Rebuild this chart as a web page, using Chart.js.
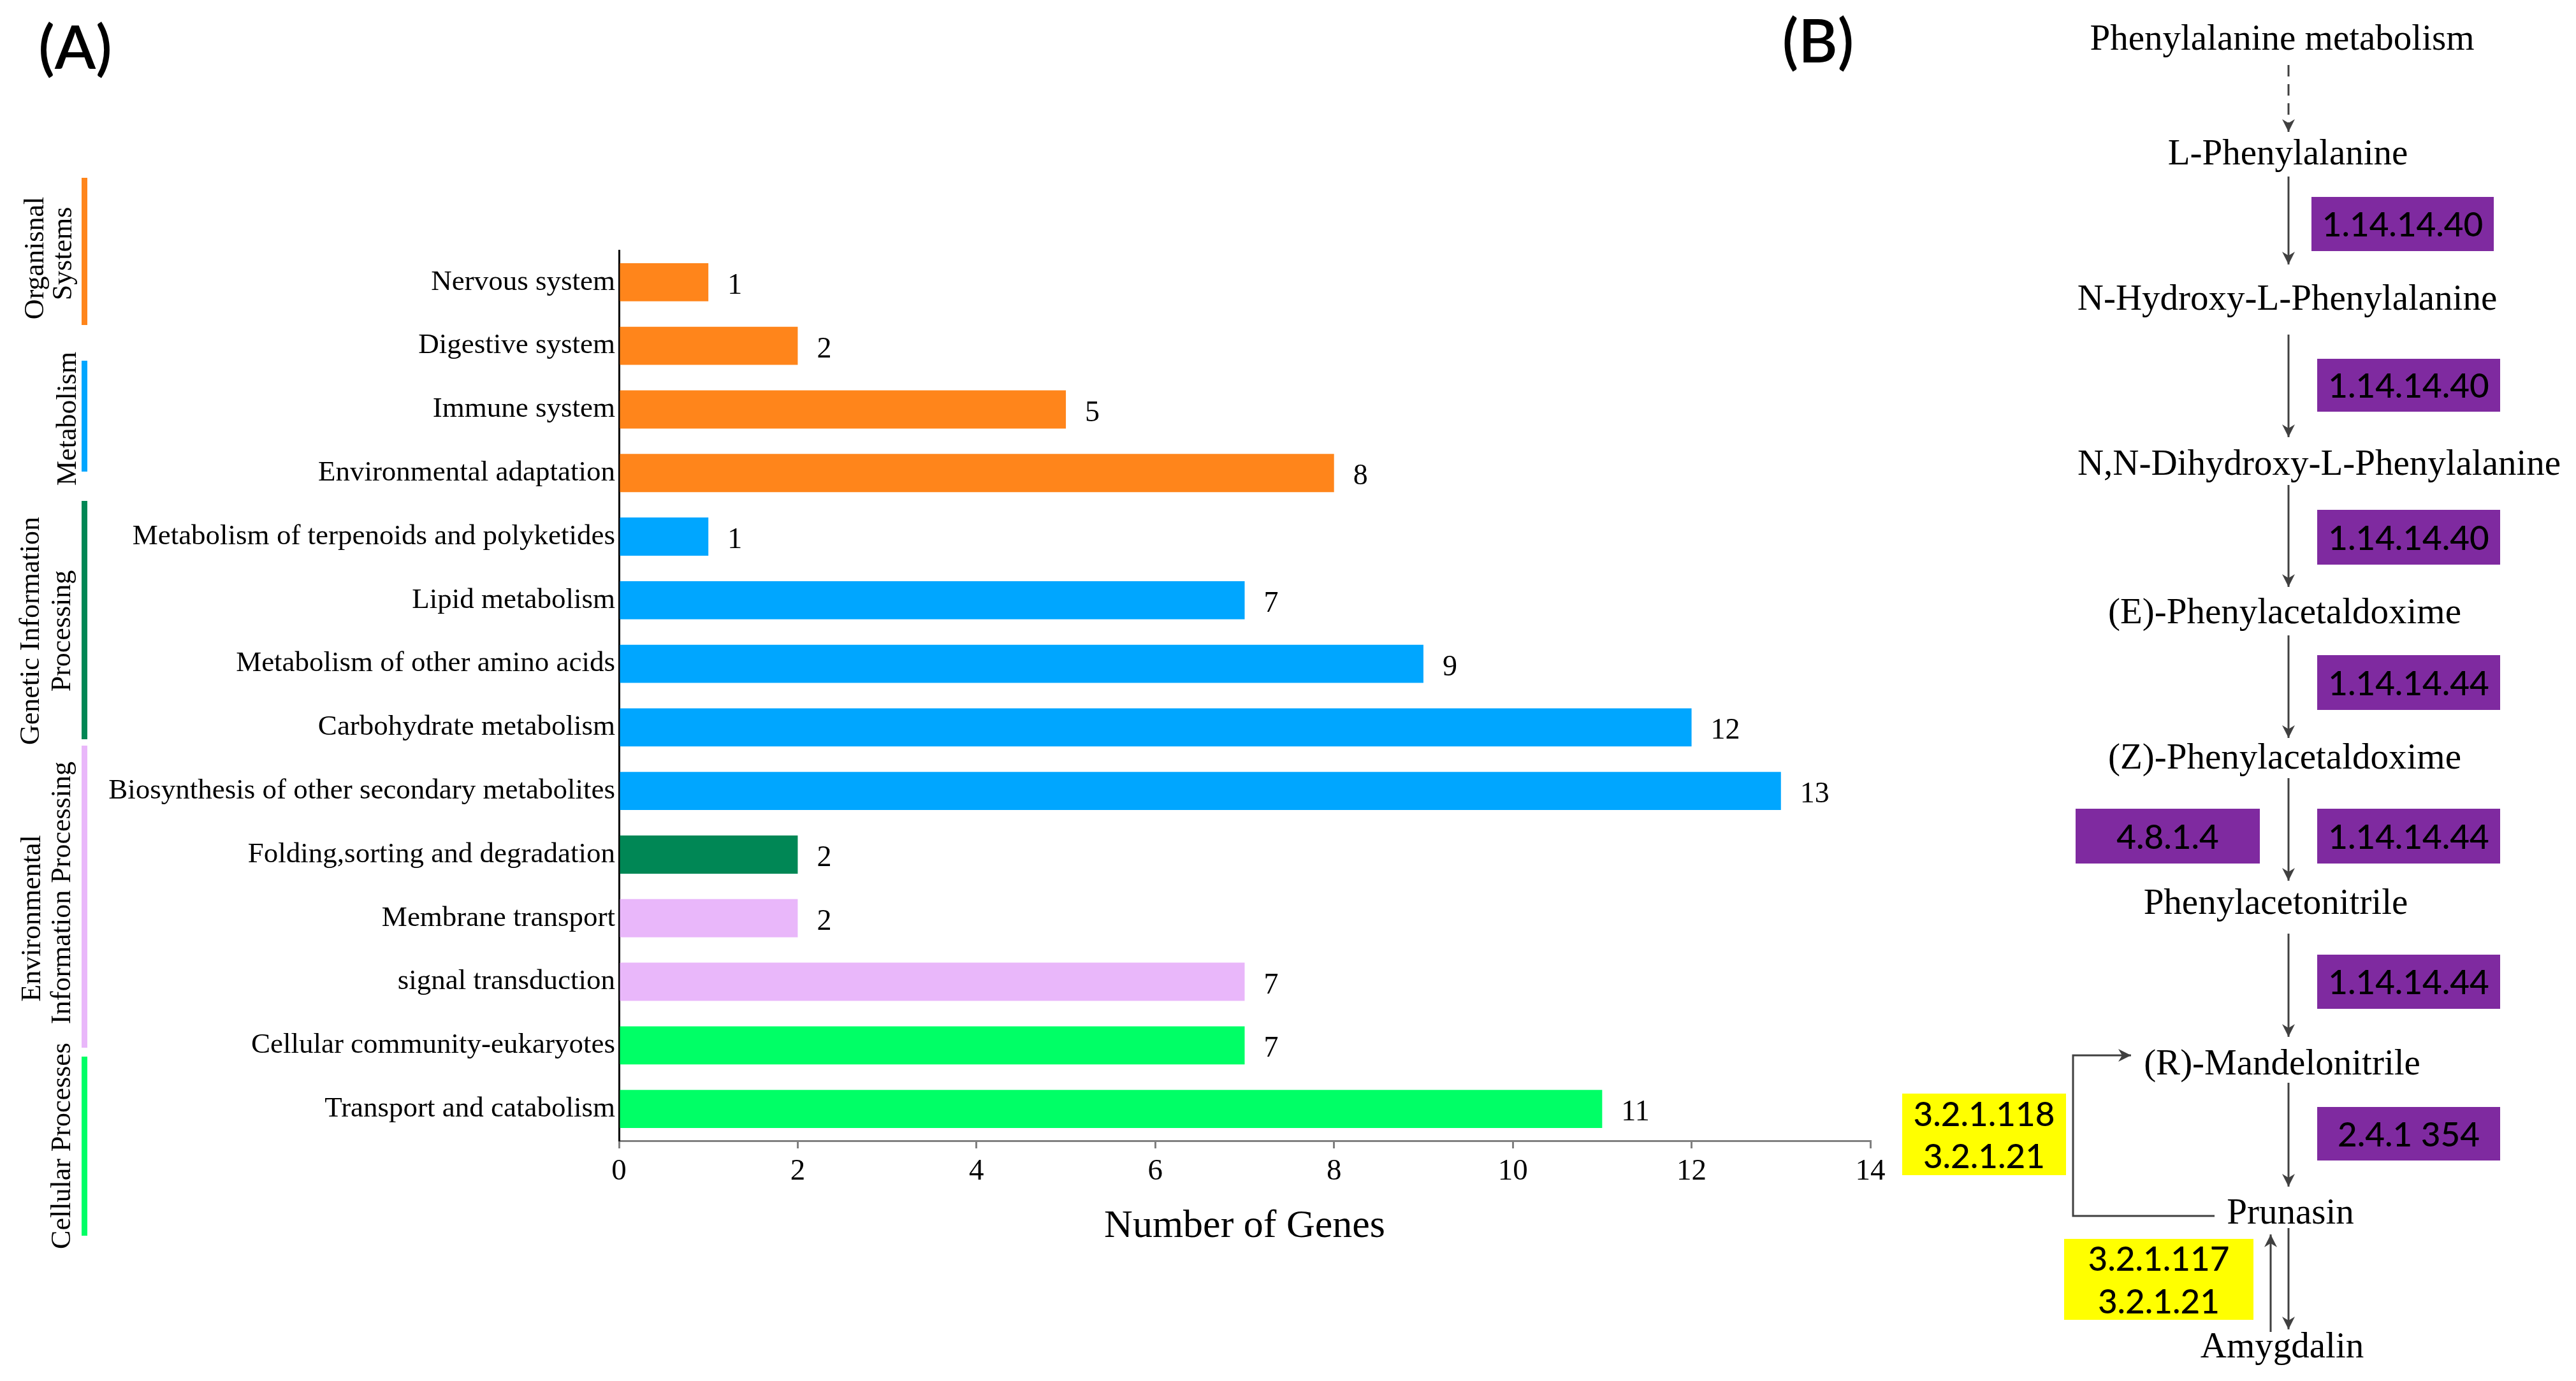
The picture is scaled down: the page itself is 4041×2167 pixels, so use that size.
<!DOCTYPE html>
<html>
<head>
<meta charset="utf-8">
<script src="https://cdn.jsdelivr.net/npm/chart.js@4.4.1/dist/chart.umd.min.js"></script>
<style>
html, body { margin: 0; padding: 0; background: #fff; }
body { width: 4041px; height: 2167px; position: relative; overflow: hidden; font-family: 'Liberation Serif', serif; color: #000; }
#wrap { position: absolute; left: 0; top: 0; width: 2990px; height: 2167px; }
.t { position: absolute; white-space: nowrap; transform: translate(-50%, -50%); line-height: 1; }
.rot { transform: translate(-50%, -50%) rotate(-90deg); font-size: 44px; }
.cmp { font-size: 57px; }
.lbl { font-family: Lato, sans-serif; font-size: 94px; font-weight: 600; }
.grp { position: absolute; left: 128px; width: 9px; }
.enz { position: absolute; display: flex; flex-direction: column; align-items: center; justify-content: center;
       font-family: Lato, sans-serif; font-size: 53px; font-weight: 500; line-height: 1.25; color: #000; background: #7f2aa0; }
.enz.y { background: #ffff00; }
svg { position: absolute; left: 0; top: 0; }
</style>
</head>
<body>
<div id="wrap"><canvas id="bars"></canvas></div>

<!-- panel labels -->
<div class="t lbl" style="left:118px;top:72px">(A)</div>
<div class="t lbl" style="left:2852px;top:62px">(B)</div>

<!-- group labels on the left -->
<div class="grp" style="top:279px;height:231px;background:#ff851b"></div>
<div class="grp" style="top:566px;height:174px;background:#00a6ff"></div>
<div class="grp" style="top:786px;height:374px;background:#008755"></div>
<div class="grp" style="top:1170px;height:474px;background:#e9b7fa"></div>
<div class="grp" style="top:1658px;height:281px;background:#00ff66"></div>
<div class="t rot" style="left:54px;top:405px">Organisnal</div>
<div class="t rot" style="left:98px;top:398px">Systems</div>
<div class="t rot" style="left:105px;top:657px">Metabolism</div>
<div class="t rot" style="left:47px;top:990px">Genetic Information</div>
<div class="t rot" style="left:96px;top:990px">Processing</div>
<div class="t rot" style="left:49px;top:1441px">Environmental</div>
<div class="t rot" style="left:96px;top:1401px">Information Processing</div>
<div class="t rot" style="left:96px;top:1798px">Cellular Processes</div>

<!-- pathway (B) -->
<svg width="4041" height="2167">
  <defs>
    <marker id="ah" viewBox="0 0 10 10" refX="10" refY="5" markerWidth="24" markerHeight="20" markerUnits="userSpaceOnUse" orient="auto">
      <path d="M0,0 L10,5 L0,10 L3,5 z" fill="#404040"/>
    </marker>
  </defs>
  <g stroke="#404040" stroke-width="3" fill="none">
    <line x1="3590" y1="102" x2="3590" y2="207" stroke-dasharray="18 12" marker-end="url(#ah)"/>
    <line x1="3590" y1="277" x2="3590" y2="415" marker-end="url(#ah)"/>
    <line x1="3590" y1="525" x2="3590" y2="686" marker-end="url(#ah)"/>
    <line x1="3590" y1="761" x2="3590" y2="921" marker-end="url(#ah)"/>
    <line x1="3590" y1="997" x2="3590" y2="1158" marker-end="url(#ah)"/>
    <line x1="3590" y1="1221" x2="3590" y2="1382" marker-end="url(#ah)"/>
    <line x1="3590" y1="1465" x2="3590" y2="1627" marker-end="url(#ah)"/>
    <line x1="3590" y1="1699" x2="3590" y2="1862" marker-end="url(#ah)"/>
    <line x1="3590" y1="1927" x2="3590" y2="2086" marker-end="url(#ah)"/>
    <line x1="3562" y1="2090" x2="3562" y2="1937" marker-end="url(#ah)"/>
    <polyline points="3474,1908 3252,1908 3252,1656 3343,1656" marker-end="url(#ah)"/>
  </g>
</svg>

<div class="t cmp" style="left:3580px;top:58px">Phenylalanine metabolism</div>
<div class="t cmp" style="left:3589px;top:238px">L-Phenylalanine</div>
<div class="t cmp" style="left:3588px;top:466px">N-Hydroxy-L-Phenylalanine</div>
<div class="t cmp" style="left:3638px;top:725px">N,N-Dihydroxy-L-Phenylalanine</div>
<div class="t cmp" style="left:3584px;top:958px">(E)-Phenylacetaldoxime</div>
<div class="t cmp" style="left:3584px;top:1186px">(Z)-Phenylacetaldoxime</div>
<div class="t cmp" style="left:3570px;top:1414px">Phenylacetonitrile</div>
<div class="t cmp" style="left:3580px;top:1666px">(R)-Mandelonitrile</div>
<div class="t cmp" style="left:3593px;top:1900px">Prunasin</div>
<div class="t cmp" style="left:3580px;top:2110px">Amygdalin</div>

<div class="enz" style="left:3626px;top:309px;width:286px;height:85px">1.14.14.40</div>
<div class="enz" style="left:3635px;top:563px;width:287px;height:83px">1.14.14.40</div>
<div class="enz" style="left:3635px;top:800px;width:287px;height:86px">1.14.14.40</div>
<div class="enz" style="left:3635px;top:1028px;width:287px;height:86px">1.14.14.44</div>
<div class="enz" style="left:3256px;top:1269px;width:289px;height:86px">4.8.1.4</div>
<div class="enz" style="left:3635px;top:1269px;width:287px;height:86px">1.14.14.44</div>
<div class="enz" style="left:3635px;top:1498px;width:287px;height:85px">1.14.14.44</div>
<div class="enz" style="left:3635px;top:1737px;width:287px;height:84px">2.4.1 354</div>
<div class="enz y" style="left:2984px;top:1716px;width:257px;height:128px"><span>3.2.1.118</span><span>3.2.1.21</span></div>
<div class="enz y" style="left:3238px;top:1944px;width:297px;height:127px"><span>3.2.1.117</span><span>3.2.1.21</span></div>

<script>
const categories = [
  'Nervous system',
  'Digestive system',
  'Immune system',
  'Environmental adaptation',
  'Metabolism of terpenoids and polyketides',
  'Lipid metabolism',
  'Metabolism of other amino acids',
  'Carbohydrate metabolism',
  'Biosynthesis of other secondary metabolites',
  'Folding,sorting and degradation',
  'Membrane transport',
  'signal transduction',
  'Cellular community-eukaryotes',
  'Transport and catabolism'
];
const geneCounts = [1, 2, 5, 8, 1, 7, 9, 12, 13, 2, 2, 7, 7, 11];
const barColors = [
  '#ff851b', '#ff851b', '#ff851b', '#ff851b',
  '#00a6ff', '#00a6ff', '#00a6ff', '#00a6ff', '#00a6ff',
  '#008755',
  '#e9b7fa', '#e9b7fa',
  '#00ff66', '#00ff66'
];
const xTickValues = [0, 2, 4, 6, 8, 10, 12, 14];

Chart.defaults.font.family = "'Liberation Serif', serif";
Chart.defaults.color = '#000';

// numbers at the end of each bar
const valueLabels = {
  id: 'valueLabels',
  afterDatasetsDraw(chart) {
    const ctx = chart.ctx;
    const meta = chart.getDatasetMeta(0);
    ctx.save();
    ctx.font = "46px 'Liberation Serif'";
    ctx.fillStyle = '#000';
    ctx.textBaseline = 'middle';
    meta.data.forEach((bar, i) => {
      ctx.fillText(String(geneCounts[i]), bar.x + 30, bar.y + 6);
    });
    ctx.restore();
  }
};

new Chart(document.getElementById('bars'), {
  type: 'bar',
  data: {
    labels: categories,
    datasets: [{
      data: geneCounts,
      backgroundColor: barColors,
      borderWidth: 0,
      categoryPercentage: 1,
      barPercentage: 0.6
    }]
  },
  options: {
    indexAxis: 'y',
    responsive: true,
    maintainAspectRatio: false,
    animation: false,
    layout: { padding: { left: 0, top: 393, right: 56, bottom: 205 } },
    plugins: { legend: { display: false }, tooltip: { enabled: false } },
    scales: {
      x: {
        min: 0,
        max: 14,
        afterBuildTicks: s => { s.ticks = xTickValues.map(v => ({ value: v })); },
        afterFit: s => { s.height = 172; },
        border: { color: '#808080', width: 3 },
        grid: { drawOnChartArea: false, color: '#808080', tickLength: 12, lineWidth: 3 },
        ticks: { font: { size: 47 }, color: '#000', padding: 8, maxRotation: 0 },
        title: { display: true, text: 'Number of Genes', font: { size: 62 }, color: '#000', padding: 0 }
      },
      y: {
        afterFit: s => { s.width = 971; },
        border: { color: '#000', width: 3 },
        grid: { display: false, drawTicks: false },
        ticks: { font: { size: 45 }, color: '#000', padding: 6, autoSkip: false }
      }
    }
  },
  plugins: [valueLabels]
});
</script>
</body>
</html>
